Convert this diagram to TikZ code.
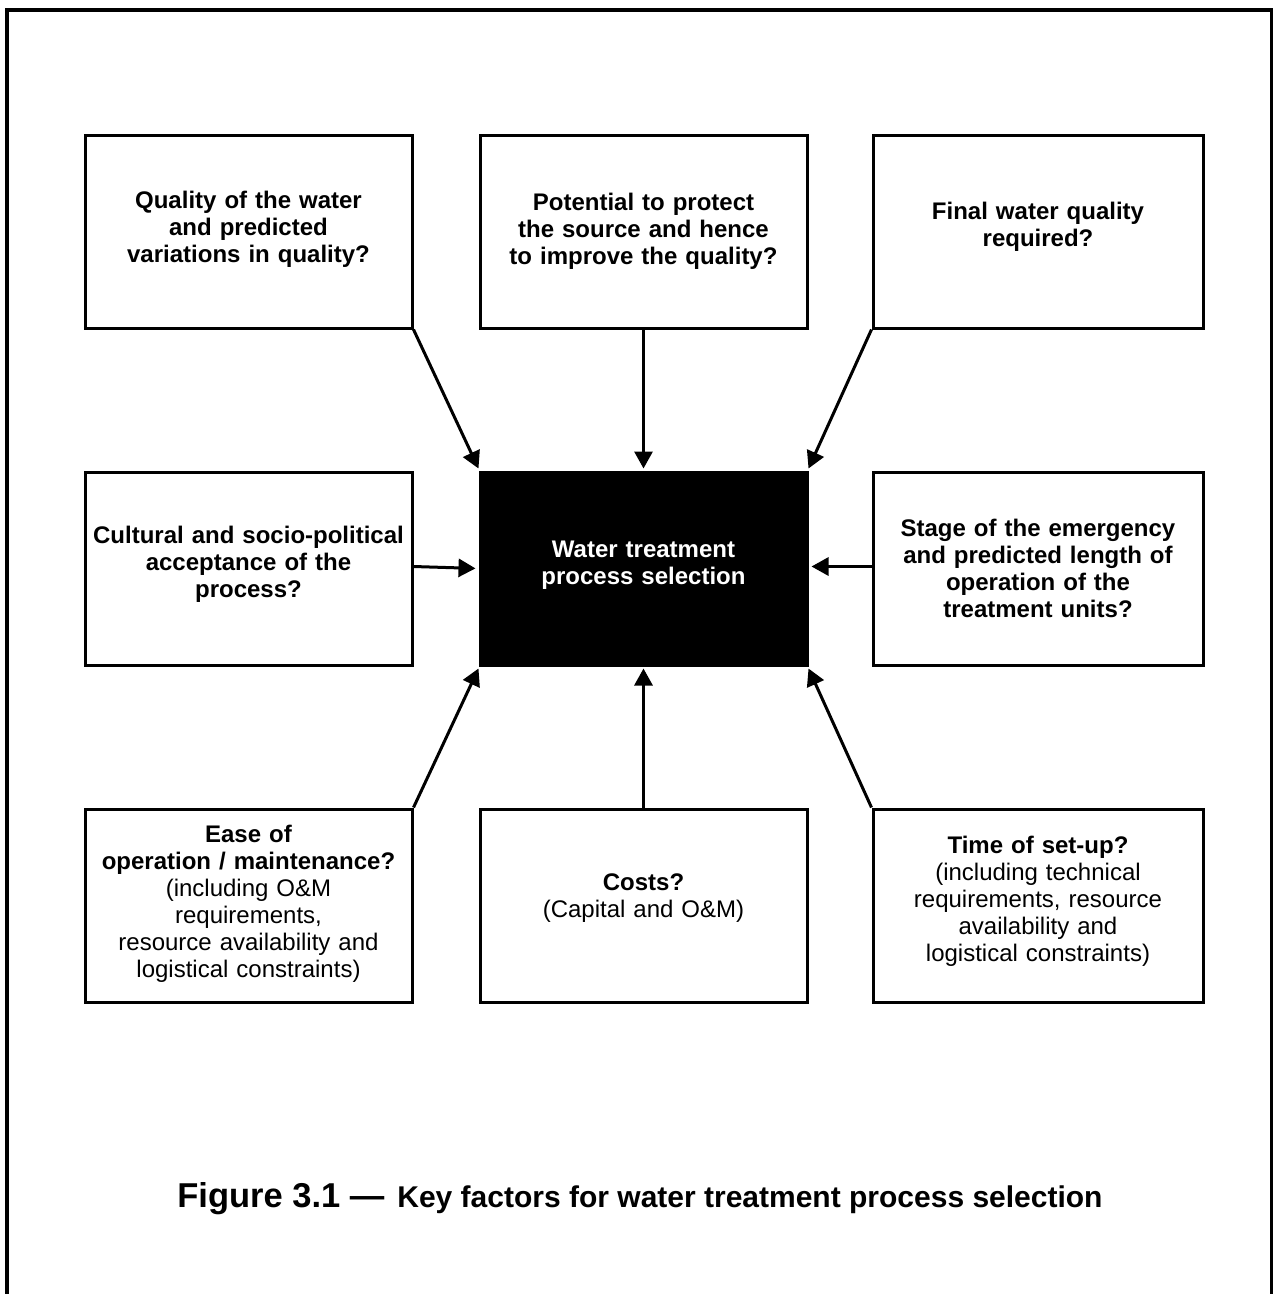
\documentclass[tikz,border=0pt]{standalone}
\usepackage{fontspec}
\setmainfont{Liberation Sans}
\usetikzlibrary{arrows.meta}
\begin{document}
\begin{tikzpicture}[x=1pt,y=-1pt,
  box/.style={draw=black, line width=3pt, minimum height=193pt, inner sep=0pt},
  boxA/.style={box, minimum width=327pt},
  boxB/.style={box, minimum width=330pt},
  central/.style={boxA, fill=black},
  txt/.style={align=center, inner sep=0pt, text width=322pt, font=\fontsize{24}{27}\selectfont},
  arr/.style={line width=3pt, -{Triangle[length=17pt,width=18pt]}}]
\useasboundingbox (0,0) rectangle (1273,1294);
% outer frame (open at the bottom)
\draw[line width=4pt] (7,1300) -- (7,10) -- (1272,10) -- (1272,1300);
% boxes
\node[boxA] (q)  at (248.5,231.5) {};
\node[boxA] (p)  at (643.5,231.5) {};
\node[boxB] (f)  at (1038,231.5) {};
\node[boxA] (cu) at (248.5,568.5) {};
\node[central] (c) at (643.5,568.5) {};
\node[boxB] (s)  at (1038,568.5) {};
\node[boxA] (e)  at (248.5,905.5) {};
\node[boxA] (co) at (643.5,905.5) {};
\node[boxB] (t)  at (1038,905.5) {};
% texts
\node[txt] (qt) at ([yshift=2pt]q.center) {\textbf{Quality of the water}\\\textbf{and predicted}\\\textbf{variations in quality?}};
\node[txt] (pt) at (p.center) {\textbf{Potential to protect}\\\textbf{the source and hence}\\\textbf{to improve the quality?}};
\node[txt] (ft) at ([yshift=5pt]f.center) {\textbf{Final water quality}\\\textbf{required?}};
\node[txt] (cut) at ([yshift=4pt]cu.center) {\textbf{Cultural and socio-political}\\\textbf{acceptance of the}\\\textbf{process?}};
\node[txt, text=white] (ct) at ([yshift=3pt]c.center) {\textbf{Water treatment}\\\textbf{process selection}};
\node[txt] (st) at (s.center) {\textbf{Stage of the emergency}\\\textbf{and predicted length of}\\\textbf{operation of the}\\\textbf{treatment units?}};
\node[txt] (et) at ([yshift=1.5pt]e.center) {\textbf{Ease of}\\\textbf{operation / maintenance?}\\(including O\&M\\requirements,\\resource availability and\\logistical constraints)};
\node[txt] (cot) at ([yshift=7pt]co.center) {\textbf{Costs?}\\(Capital and O\&M)};
\node[txt] (tt) at ([yshift=4pt]t.center) {\textbf{Time of set-up?}\\(including technical\\requirements, resource\\availability and\\logistical constraints)};
% arrows
\draw[arr] (q.south east) -- ([yshift=2pt]c.north west);
\draw[arr] (p.south) -- ([yshift=2pt]c.north);
\draw[arr] (f.south west) -- ([yshift=2pt]c.north east);
\draw[arr, shorten >=3pt] ([yshift=2pt]cu.east) -- (c.west);
\draw[arr, shorten >=3pt] ([yshift=2pt]s.west) -- ([yshift=2pt]c.east);
\draw[arr] (e.north east) -- ([yshift=-2pt]c.south west);
\draw[arr] (co.north) -- ([yshift=-2pt]c.south);
\draw[arr] (t.north west) -- ([yshift=-2pt]c.south east);
% caption
\node[anchor=base, inner sep=0pt] (cap) at (640,1207)
  {\bfseries{\fontsize{34.5}{38}\selectfont Figure 3.1 —}\hspace{13pt}{\fontsize{30}{36}\selectfont Key factors for water treatment process selection}};
\end{tikzpicture}
\end{document}
